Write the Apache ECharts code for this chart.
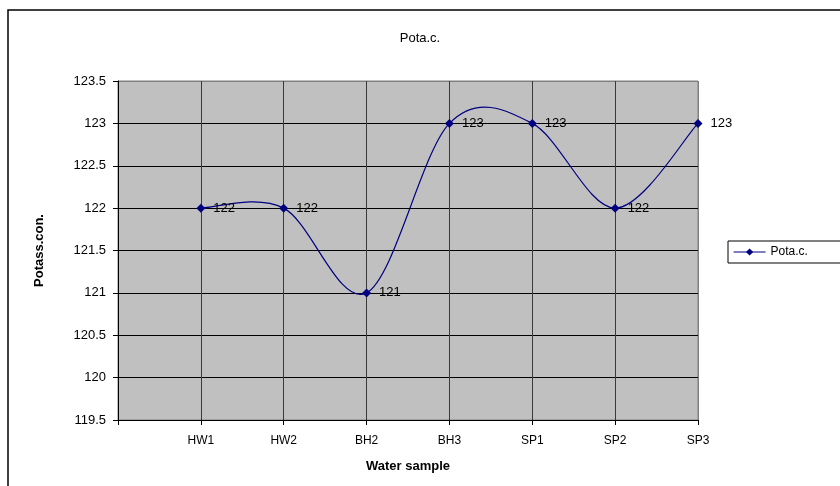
<!DOCTYPE html>
<html>
<head>
<meta charset="utf-8">
<script src="https://cdn.jsdelivr.net/npm/echarts@6/dist/echarts.min.js"></script>
<style>
  html, body { margin: 0; padding: 0; background: #ffffff; }
  #chart { width: 840px; height: 486px; }
</style>
</head>
<body>
<div id="chart"></div>
<script>
// Sample sites along the category axis (leading blank slot keeps HW1 off the y axis)
const categories = ['', 'HW1', 'HW2', 'BH2', 'BH3', 'SP1', 'SP2', 'SP3'];
// Potassium concentration per site
const potaValues = [null, 122, 122, 121, 123, 123, 122, 123];
// Value axis range and step
const yMin = 119.5;
const yMax = 123.5;
const yStep = 0.5;

const FONT = 'Liberation Sans, Arial, sans-serif';
const LINE_COLOR = '#000080';

const chart = echarts.init(document.getElementById('chart'), null, { renderer: 'canvas' });

const yLineCount = Math.round((yMax - yMin) / yStep) + 1;
const yGridColors = [];
for (let i = 0; i < yLineCount; i++) yGridColors.push(i === yLineCount - 1 ? '#808080' : '#000000');
const xGridColors = categories.map((c, i) => (i === categories.length - 1 ? '#808080' : '#3a3a3a'));

const firstIdx = potaValues.findIndex(v => v != null);

// Cardinal (Catmull-Rom, tension 1/6) curve through the data points,
// positioned through the chart's own axes with api.coord.
function renderSmoothCurve(params, api) {
  if (params.dataIndex !== firstIdx) return null;
  const pts = [];
  potaValues.forEach((v, i) => { if (v != null) pts.push(api.coord([i, v])); });
  let d = 'M' + pts[0][0] + ',' + pts[0][1];
  for (let i = 0; i < pts.length - 1; i++) {
    const p0 = pts[i - 1] || pts[i];
    const p1 = pts[i];
    const p2 = pts[i + 1];
    const p3 = pts[i + 2] || pts[i + 1];
    const c1x = p1[0] + (p2[0] - p0[0]) / 6, c1y = p1[1] + (p2[1] - p0[1]) / 6;
    const c2x = p2[0] - (p3[0] - p1[0]) / 6, c2y = p2[1] - (p3[1] - p1[1]) / 6;
    d += ' C' + c1x + ',' + c1y + ' ' + c2x + ',' + c2y + ' ' + p2[0] + ',' + p2[1];
  }
  return {
    type: 'path',
    shape: { pathData: d },
    style: { fill: 'none', stroke: LINE_COLOR, lineWidth: 1.2 }
  };
}

chart.setOption({
  animation: false,
  backgroundColor: '#ffffff',
  textStyle: { fontFamily: FONT },
  graphic: [
    {
      type: 'rect',
      shape: { x: 8, y: 10, width: 860, height: 500 },
      style: { fill: 'none', stroke: '#000000', lineWidth: 1.5 },
      silent: true,
      z: -10
    }
  ],
  title: {
    text: 'Pota.c.',
    left: 'center',
    top: 27,
    textStyle: { fontFamily: FONT, fontSize: 13, fontWeight: 'normal', color: '#000000' }
  },
  legend: {
    data: [{
      name: 'Pota.c.',
      lineStyle: { color: LINE_COLOR, width: 1.2, opacity: 1 },
      itemStyle: { color: LINE_COLOR }
    }],
    left: 728,
    top: 241,
    orient: 'vertical',
    padding: [5, 40, 5, 5],
    itemWidth: 32,
    itemHeight: 9,
    itemGap: 4,
    borderColor: '#000000',
    borderWidth: 1,
    borderRadius: 0,
    textStyle: { fontFamily: FONT, fontSize: 12, color: '#000000' }
  },
  grid: {
    left: 118,
    right: 142,
    top: 81,
    bottom: 66,
    show: true,
    backgroundColor: '#c0c0c0',
    borderColor: '#808080',
    borderWidth: 1
  },
  xAxis: {
    type: 'category',
    data: categories,
    boundaryGap: false,
    name: 'Water sample',
    nameLocation: 'middle',
    nameGap: 40,
    nameTextStyle: { fontFamily: FONT, fontSize: 13, fontWeight: 'bold', color: '#000000' },
    axisLine: { show: true, lineStyle: { color: '#000000', width: 1 } },
    axisTick: { show: true, inside: false, length: 5, lineStyle: { color: '#000000' } },
    axisLabel: { margin: 15, fontFamily: FONT, fontSize: 12, color: '#000000' },
    splitLine: { show: true, lineStyle: { color: xGridColors, width: 1 } }
  },
  yAxis: {
    type: 'value',
    min: yMin,
    max: yMax,
    interval: yStep,
    name: 'Potass.con.',
    nameLocation: 'middle',
    nameGap: 72,
    nameRotate: 90,
    nameTextStyle: { fontFamily: FONT, fontSize: 13, fontWeight: 'bold', color: '#000000' },
    axisLine: { show: true, lineStyle: { color: '#000000', width: 1 } },
    axisTick: { show: true, inside: false, length: 5, lineStyle: { color: '#000000' } },
    axisLabel: { margin: 12, fontFamily: FONT, fontSize: 13, color: '#000000' },
    splitLine: { show: true, lineStyle: { color: yGridColors, width: 1 } }
  },
  series: [
    {
      name: 'Pota.c. curve',
      type: 'custom',
      data: potaValues.map((v, i) => [i, v]),
      encode: { x: 0, y: 1 },
      renderItem: renderSmoothCurve,
      silent: true,
      clip: false,
      z: 3
    },
    {
      name: 'Pota.c.',
      type: 'line',
      data: potaValues,
      connectNulls: false,
      symbol: 'diamond',
      symbolSize: 9,
      itemStyle: { color: LINE_COLOR },
      lineStyle: { color: LINE_COLOR, width: 1.2, opacity: 0 },
      label: {
        show: true,
        position: 'right',
        distance: 8,
        fontFamily: FONT,
        fontSize: 13,
        color: '#000000'
      },
      z: 5
    }
  ]
});
</script>
</body>
</html>
